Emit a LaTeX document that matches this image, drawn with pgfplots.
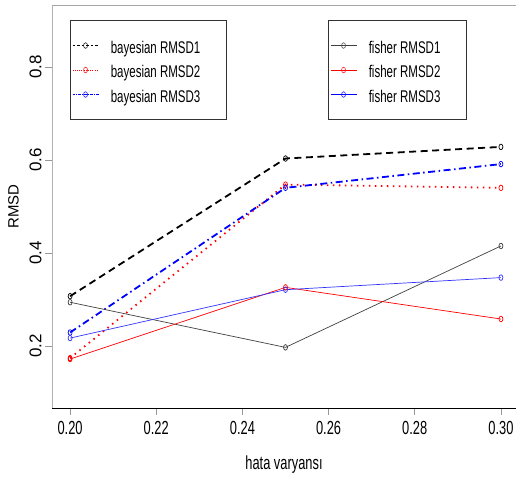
\documentclass[border=0pt]{standalone}
\usepackage{fontspec}
\setmainfont{Liberation Sans}
\newfontfamily\cnd{Liberation Sans}[FakeStretch=0.68]
\usepackage{pgfplots}
\pgfplotsset{compat=1.18}
\pgfplotsset{
  common/.style={
    scale only axis, width=464bp, height=403bp,
    xmin=0.1958, xmax=0.3035, ymin=0.0667, ymax=0.933,
    clip=false,
    legend cell align=left,
    legend image code/.code={
      \draw[mark repeat=2,mark phase=2] plot coordinates {(0bp,0bp)(13bp,0bp)(26bp,0bp)};
      \path (38bp,0bp);},
    legend style={anchor=north west, draw=black!80, line width=0.6bp,
      inner xsep=2bp, inner ysep=16bp, row sep=6bp,
      font=\cnd\fontsize{17}{20}\selectfont,
      nodes={inner sep=0pt}},
  },
  lg/.style={line width=0.5bp, mark=o, mark size=2bp, mark options={solid, yscale=1.4, line width=0.5bp}},
  mk/.style={mark=o, mark size=2bp, mark options={solid, yscale=1.4, line width=0.7bp}},
}
\newcommand{\E}[1]{\rule[-3bp]{0pt}{20bp}#1\hspace*{24bp}}
\begin{document}
\begin{tikzpicture}
\begin{axis}[common, name=ax,
  axis x line*=bottom, axis y line*=left,
  axis line style={-},
  x axis line style={black, line width=0.7bp},
  y axis line style={gray!60, line width=0.8bp},
  tick align=outside, major tick length=7bp,
  tick style={gray!80, line width=0.6bp},
  xtick={0.20,0.22,0.24,0.26,0.28,0.30},
  ytick={0.2,0.4,0.6,0.8},
  xticklabel style={/pgf/number format/fixed, /pgf/number format/fixed zerofill, /pgf/number format/precision=2,
    /pgf/number format/assume math mode=true, font=\cnd\fontsize{19}{22}\selectfont, yshift=-3bp},
  yticklabel style={/pgf/number format/fixed, /pgf/number format/fixed zerofill, /pgf/number format/precision=1,
    /pgf/number format/assume math mode=true, font=\fontsize{17}{20}\selectfont, rotate=90, anchor=south, yshift=0bp},
  xlabel={hata varyansı},
  xlabel style={font=\cnd\fontsize{19}{22}\selectfont, yshift=-14bp},
  ylabel={RMSD},
  ylabel style={font=\fontsize{15}{18}\selectfont, yshift=4bp},
  legend style={at={(0.0388,0.9628)}},
]
\draw[gray!70, line width=0.8bp] (rel axis cs:0,1) -- (rel axis cs:1,1);
\addlegendimage{lg, black, dash pattern=on 2.5bp off 2bp}
\addlegendentry{\E{bayesian RMSD1}}
\addlegendimage{lg, red, dash pattern=on 1bp off 1.2bp}
\addlegendentry{\E{bayesian RMSD2}}
\addlegendimage{lg, blue, dash pattern=on 2.5bp off 1.2bp on 1bp off 1.2bp}
\addlegendentry{\E{bayesian RMSD3}}
\addplot[forget plot, black, line width=1.8bp, dash pattern=on 7bp off 4.5bp, mk] coordinates {(0.20,0.307)(0.25,0.603)(0.30,0.628)};
\addplot[forget plot, red, line width=1.8bp, dash pattern=on 1.5bp off 4.5bp, mk] coordinates {(0.20,0.174)(0.25,0.547)(0.30,0.540)};
\addplot[forget plot, blue, line width=1.8bp, dash pattern=on 7bp off 3.5bp on 1.5bp off 3.5bp, mk] coordinates {(0.20,0.229)(0.25,0.540)(0.30,0.591)};
\end{axis}
\begin{axis}[common, hide axis,
  legend style={at={(0.5948,0.9628)}},
]
\addlegendimage{lg, black!75}
\addlegendentry{\E{fisher RMSD1}}
\addlegendimage{lg, red}
\addlegendentry{\E{fisher RMSD2}}
\addlegendimage{lg, blue}
\addlegendentry{\E{fisher RMSD3}}
\addplot[forget plot, black!75, line width=0.7bp, mk] coordinates {(0.20,0.294)(0.25,0.197)(0.30,0.415)};
\addplot[forget plot, red, line width=0.7bp, mk] coordinates {(0.20,0.172)(0.25,0.326)(0.30,0.258)};
\addplot[forget plot, blue!80, line width=0.7bp, mk] coordinates {(0.20,0.217)(0.25,0.321)(0.30,0.347)};
\end{axis}
\pgfresetboundingbox
\path (ax.south west) ++(-52bp,-70bp) rectangle ++(516bp,478bp);
\end{tikzpicture}
\end{document}
